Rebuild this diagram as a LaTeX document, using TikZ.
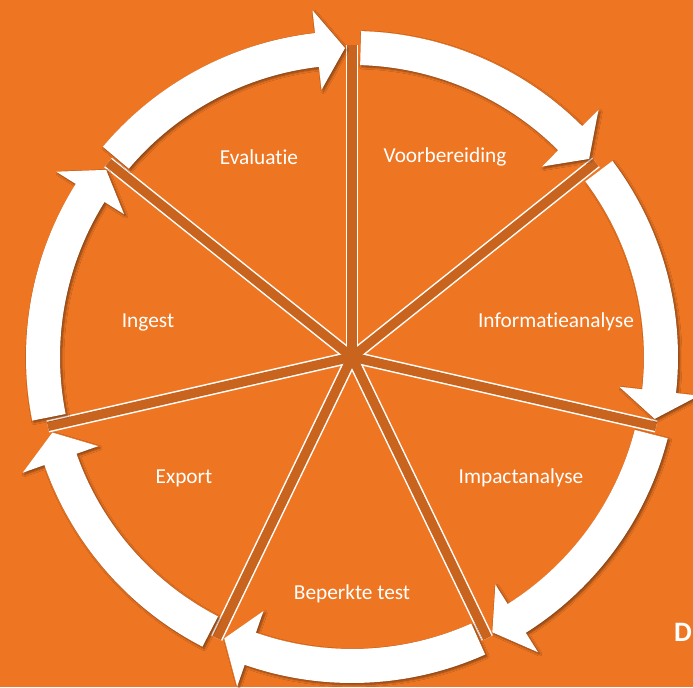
\documentclass[tikz,border=0pt]{standalone}
\usepackage{fontspec}
\setmainfont{Carlito}[Ligatures=NoCommon]
\usetikzlibrary{positioning,shadows.blur}
\definecolor{cycleorange}{HTML}{EE7623}
\definecolor{spokedark}{HTML}{C9641F}

\begin{document}
\begin{tikzpicture}[x=0.03cm,y=0.03cm,
  phase/.style={text=white,font=\fontsize{18.2}{21}\selectfont},
  cyclearrow/.style={fill=white,blur shadow={shadow xshift=1.5pt,shadow yshift=-1.5pt,shadow blur steps=6,shadow opacity=45}}]
  \clip (0,0) rectangle (693,687);
  \fill[cycleorange] (0,0) rectangle (693,687);
  \coordinate (c) at (352,330);
  \begin{scope}[shift={(c)}]
    \foreach \i in {0,...,6}
      \draw[white,line width=0.37cm] (0,0) -- ({90-51.4286*\i}:312);
    \foreach \i in {0,...,6}
      \draw[spokedark,line width=0.28cm] (0,0) -- ({90-51.4286*\i}:312);
    \foreach \i in {0,...,6}{
      \pgfmathsetmacro\ts{90-51.4286*\i-1.6}
      \pgfmathsetmacro\tb{90-51.4286*(\i+1)+6.5}
      \pgfmathsetmacro\tt{90-51.4286*(\i+1)+1.3}
      \path[cyclearrow] (\ts:326) arc[start angle=\ts,end angle=\tb,radius=326]
        -- (\tb:349) -- (\tt:309) -- (\tb:269) -- (\tb:292)
        arc[start angle=\tb,end angle=\ts,radius=292] -- cycle;
    }
  \end{scope}
  \node[phase] (evaluatie) at (259,530) {Evaluatie};
  \node[phase] (voorbereiding) at (445,530) {Voorbereiding};
  \node[phase] (ingest) at (148,365) {Ingest};
  \node[phase] (informatie) at (556,365) {Informatieanalyse};
  \node[phase] (export) at (184,209) {Export};
  \node[phase] (impact) at (521,209) {Impactanalyse};
  \node[phase] (test) at (352,93) {Beperkte test};
  \node[text=white,font=\fontsize{24}{28}\selectfont\bfseries,anchor=east,inner sep=0pt] (cut) at (692,55) {D};
\end{tikzpicture}
\end{document}
